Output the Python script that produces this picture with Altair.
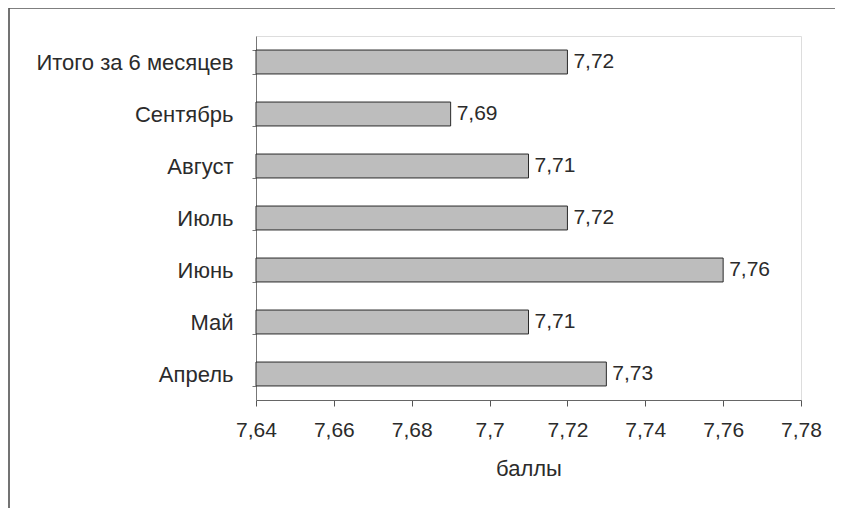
import altair as alt
import pandas as pd

categories = ["Итого за 6 месяцев", "Сентябрь", "Август", "Июль", "Июнь", "Май", "Апрель"]
values = [7.72, 7.69, 7.71, 7.72, 7.76, 7.71, 7.73]
x_ticks = [7.64, 7.66, 7.68, 7.70, 7.72, 7.74, 7.76, 7.78]
x_min, x_max = 7.64, 7.78

df = pd.DataFrame({"cat": categories, "v": values})

FONT = "Liberation Sans"
FS = 22
FSN = 21
TXT = "#2b2b2b"

base = alt.Chart(df)

bars = base.mark_bar(color="#bdbdbd", stroke="#2a2a2a", strokeWidth=1).encode(
    x=alt.X("v:Q",
            scale=alt.Scale(domain=[x_min, x_max], nice=False, zero=False),
            axis=alt.Axis(values=x_ticks, title="баллы", grid=False, labelFlush=False,
                          labelExpr="replace(format(datum.value, '.3~r'), '.', ',')",
                          labelFont=FONT, labelFontSize=FSN, labelColor=TXT,
                          titleFont=FONT, titleFontSize=FS, titleFontWeight="normal",
                          titleColor=TXT, titlePadding=18, labelPadding=13,
                          tickSize=6, tickColor="#555", domainColor="#666")),
    x2=alt.X2(datum=x_min),
    y=alt.Y("cat:N", sort=categories,
            scale=alt.Scale(paddingInner=0.54, paddingOuter=0.27),
            axis=alt.Axis(title=None, labelFont=FONT, labelFontSize=FS, labelColor=TXT,
                          labelPadding=19, labelLimit=400, tickSize=4, tickBand="extent",
                          tickColor="#777", domainColor="#777")),
)

labels = base.transform_calculate(
    lab="replace(format(datum.v, '.2f'), '.', ',')"
).mark_text(align="left", dx=6, font=FONT, fontSize=FSN, color=TXT).encode(
    x="v:Q", y=alt.Y("cat:N", sort=categories), text="lab:N"
)

frame_left = alt.Chart(pd.DataFrame({"a": [0]})).mark_rule(color="#444", strokeWidth=1.5).encode(
    x=alt.value(-247), y=alt.value(-28), y2=alt.value(480)
)
frame_top = alt.Chart(pd.DataFrame({"a": [0]})).mark_rule(color="#555", strokeWidth=1.5).encode(
    x=alt.value(-247), x2=alt.value(600), y=alt.value(-28)
)

chart = alt.layer(bars, labels, frame_left, frame_top).properties(
    width=545, height=364,
    autosize=alt.AutoSizeParams(type="none"),
    padding={"left": 248, "top": 28, "right": 34, "bottom": 108},
).configure_view(stroke="#999", strokeWidth=1).configure(background="white")

chart.save("out.html", embed_options={"renderer": "svg", "actions": False})
